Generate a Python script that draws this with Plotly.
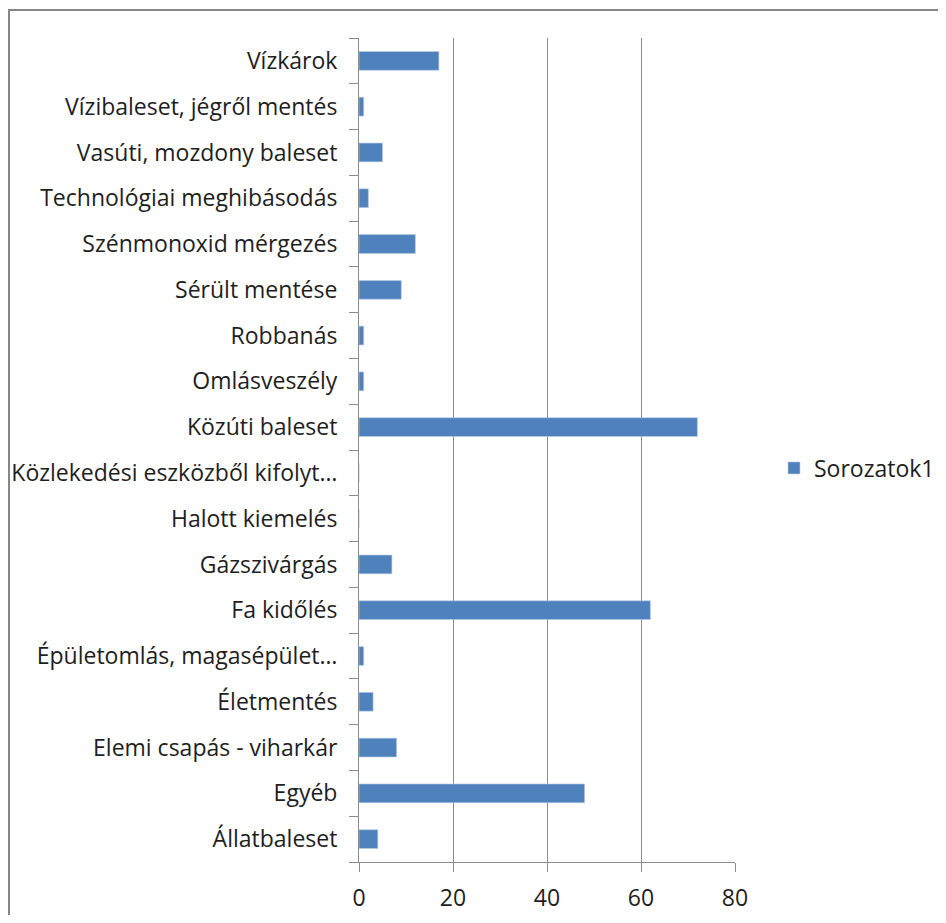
import plotly.graph_objects as go

categories = [
    "Állatbaleset",
    "Egyéb",
    "Elemi csapás - viharkár",
    "Életmentés",
    "Épületomlás, magasépület…",
    "Fa kidőlés",
    "Gázszivárgás",
    "Halott kiemelés",
    "Közlekedési eszközből kifolyt…",
    "Közúti baleset",
    "Omlásveszély",
    "Robbanás",
    "Sérült mentése",
    "Szénmonoxid mérgezés",
    "Technológiai meghibásodás",
    "Vasúti, mozdony baleset",
    "Vízibaleset, jégről mentés",
    "Vízkárok",
]
values = [4, 48, 8, 3, 1, 62, 7, 0, 0, 72, 1, 1, 9, 12, 2, 5, 1, 17]
series_name = "Sorozatok1"
x_ticks = [0, 20, 40, 60, 80]

OFF = 8  # default body margin of the page
W, H = 930, 907
L, R, T, B = 359 - OFF, 735 - OFF, 38 - OFF, 862 - OFF
pw, ph = R - L, B - T

fig = go.Figure(go.Bar(
    x=values, y=categories, orientation="h", name=series_name,
    marker=dict(color="#4F81BD", line=dict(color="#B9CDE5", width=0.6)),
    showlegend=True,
))

font = "Open Sans, Noto Sans, sans-serif"
fs = 23
fig.update_layout(
    width=W, height=H,
    margin=dict(l=L, r=W - R, t=T, b=H - B, autoexpand=False),
    paper_bgcolor="white", plot_bgcolor="white",
    bargap=0.59,
    font=dict(family=font, size=fs, color="#1E1E1E"),
    xaxis=dict(range=[0, 80], tickvals=x_ticks, showgrid=True, gridcolor="#8C8C8C",
               gridwidth=1, showline=True, linecolor="#8C8C8C", linewidth=1,
               ticks="outside", ticklen=9, tickcolor="#8C8C8C", zeroline=False,
               tickfont=dict(size=fs), ticklabelstandoff=6, fixedrange=True, automargin=False),
    yaxis=dict(type="category", showline=True, linecolor="#8C8C8C", linewidth=1,
               ticks="outside", tickson="boundaries", ticklen=9, tickcolor="#8C8C8C",
               showgrid=False, tickfont=dict(size=fs), ticklabelstandoff=16, range=[-0.5, 17.5],
               automargin=False),
    legend=dict(x=(774 - OFF - L) / pw, y=(B - (468 - OFF)) / ph, xanchor="left", yanchor="middle",
                font=dict(size=fs), bgcolor="rgba(0,0,0,0)"),
    shapes=[dict(type="rect", xref="paper", yref="paper",
                 x0=(9 - OFF - L) / pw, x1=(960 - L) / pw, y0=(B - 940) / ph, y1=(B - (10 - OFF)) / ph,
                 line=dict(color="#868686", width=2), fillcolor="rgba(0,0,0,0)", layer="below")],
)
fig.write_html("out.html")
